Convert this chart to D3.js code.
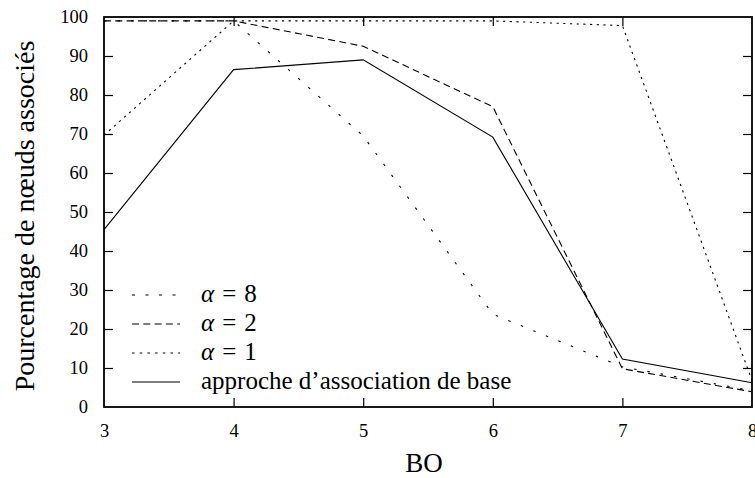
<!DOCTYPE html>
<html>
<head>
<meta charset="utf-8">
<script src="https://cdn.jsdelivr.net/npm/d3@7"></script>
</head>
<body style="margin:0">
<svg id="chart" width="755" height="478"></svg>
<script>
// ---- data ----
const bo = [3, 4, 5, 6, 7, 8];
const alpha8 = [99, 99, 69.5, 23.8, 10.3, 4.2];
const alpha2 = [99, 99, 92.5, 77, 9.8, 3.9];
const alpha1 = [69.7, 99, 99, 99, 97.8, 6.8];
const baseApproach = [45.5, 86.5, 89, 69.2, 12.3, 6.2];
const xTicks = [3, 4, 5, 6, 7, 8];
const yTicks = [0, 10, 20, 30, 40, 50, 60, 70, 80, 90, 100];
const seriesNames = ["α = 8", "α = 2", "α = 1", "approche d’association de base"];
const xTitle = "BO";
const yTitle = "Pourcentage de nœuds associés";

// ---- layout ----
const W = 755, H = 478;
const m = { left: 104, right: 3, top: 17, bottom: 71 };
const FONT = "'Liberation Serif'";
const svg = d3.select("#chart");
const x = d3.scaleLinear().domain([3, 8]).range([m.left, W - m.right]);
const y = d3.scaleLinear().domain([0, 100]).range([H - m.bottom, m.top]);

const series = [
  { name: seriesNames[0], values: alpha8, dash: "2.5,11", legendDash: "3,10.5" },
  { name: seriesNames[1], values: alpha2, dash: "7,4.3", legendDash: "7,4.3" },
  { name: seriesNames[2], values: alpha1, dash: "2.2,4.5", legendDash: "2.5,5.2" },
  { name: seriesNames[3], values: baseApproach, dash: null, legendDash: null }
];

// ---- axes (inward ticks, mirrored) ----
const tickLen = 9;
const gx = svg.append("g").attr("transform", `translate(0,${y(0)})`)
  .call(d3.axisBottom(x).tickValues(xTicks).tickSize(-tickLen).tickPadding(tickLen + 8).tickFormat(d3.format("d")));
const gxTop = svg.append("g").attr("transform", `translate(0,${y(100)})`)
  .call(d3.axisTop(x).tickValues(xTicks).tickSize(-tickLen).tickFormat(""));
const gy = svg.append("g").attr("transform", `translate(${x(3)},0)`)
  .call(d3.axisLeft(y).tickValues(yTicks).tickSize(-tickLen).tickPadding(tickLen + 7).tickFormat(d3.format("d")));
const gyR = svg.append("g").attr("transform", `translate(${x(8)},0)`)
  .call(d3.axisRight(y).tickValues(yTicks).tickSize(-tickLen).tickFormat(""));

[gx, gxTop, gy, gyR].forEach(g => {
  g.attr("font-family", null).attr("font-size", null);
  g.select(".domain").remove();
  g.selectAll(".tick line").attr("stroke", "#000").attr("stroke-width", 1.2);
  g.selectAll("text").attr("font-family", FONT).attr("font-size", 18.5).attr("fill", "#000");
});
// remove tick marks on the corners
gx.selectAll(".tick").filter(d => d === 3 || d === 8).select("line").remove();
gxTop.selectAll(".tick").filter(d => d === 3 || d === 8).select("line").remove();
gy.selectAll(".tick").filter(d => d === 0 || d === 100).select("line").remove();
gyR.selectAll(".tick").filter(d => d === 0 || d === 100).select("line").remove();

// frame
svg.append("rect")
  .attr("x", x(3)).attr("y", y(100))
  .attr("width", x(8) - x(3)).attr("height", y(0) - y(100))
  .attr("fill", "none").attr("stroke", "#000").attr("stroke-width", 1.8);

// ---- lines ----
const line = d3.line().x((d, i) => x(bo[i])).y(d => y(d));
series.forEach(s => {
  svg.append("path")
    .datum(s.values)
    .attr("d", line)
    .attr("fill", "none")
    .attr("stroke", "#000")
    .attr("stroke-width", 1.1)
    .attr("stroke-dasharray", s.dash);
});

// ---- legend ----
series.forEach((s, i) => {
  const ly = 295 + i * 29;
  svg.append("line")
    .attr("x1", 132).attr("x2", 180).attr("y1", ly).attr("y2", ly)
    .attr("stroke", "#000").attr("stroke-width", 1.2)
    .attr("stroke-dasharray", s.legendDash);
  const t = svg.append("text").attr("x", 201).attr("y", ly + 7)
    .attr("font-size", 25).attr("font-family", FONT);
  if (s.name.startsWith("α")) {
    t.append("tspan").attr("font-style", "italic").text("α");
    t.append("tspan").attr("dx", 8).text("=");
    t.append("tspan").attr("dx", 8).text(s.name.split("=")[1].trim());
  } else {
    t.text(s.name);
  }
});

// ---- axis titles ----
svg.append("text")
  .attr("x", 424).attr("y", 472)
  .attr("text-anchor", "middle").attr("font-size", 27).attr("font-family", FONT)
  .text(xTitle);
svg.append("text")
  .attr("transform", `translate(34,216) rotate(-90)`)
  .attr("text-anchor", "middle").attr("font-size", 28).attr("font-family", FONT)
  .text(yTitle);
</script>
</body>
</html>
